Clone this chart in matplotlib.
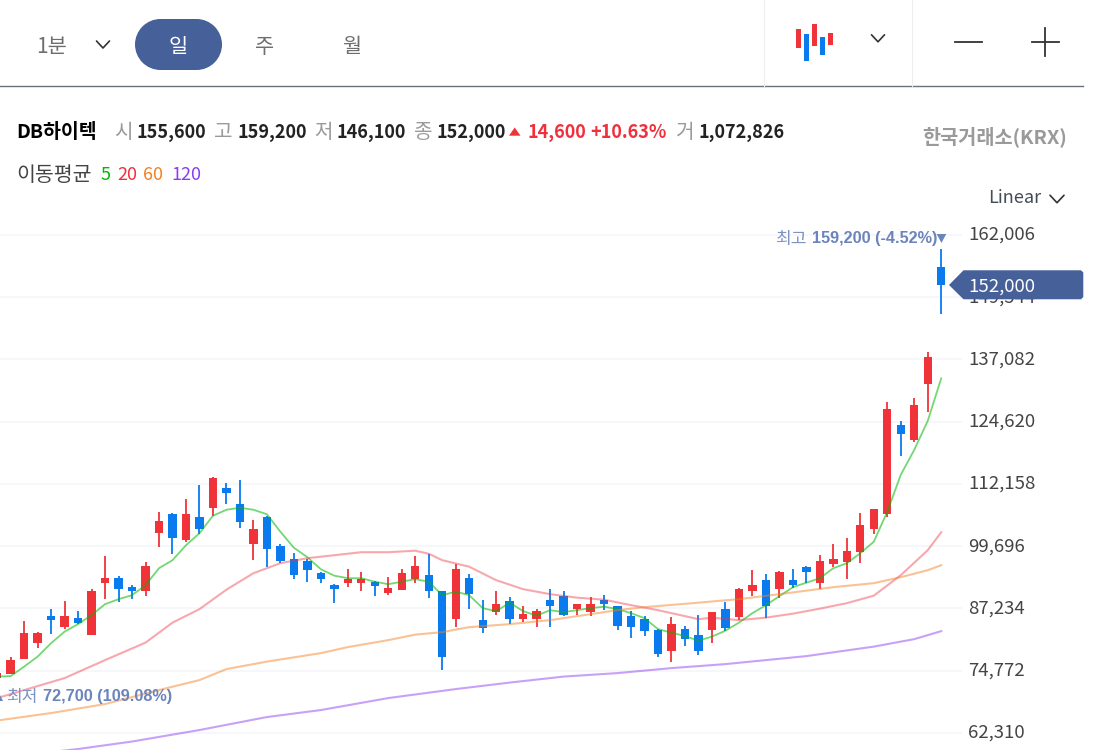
import matplotlib
matplotlib.use("Agg")
import matplotlib.pyplot as plt
from matplotlib.patches import Polygon, Rectangle
import numpy as np

plt.rcParams['font.family'] = ['Noto Sans CJK KR', 'DejaVu Sans']

# daily candles, oldest first
opens = [73300, 74200, 77100, 80400, 85800, 83600, 85300, 81900, 92300, 93300, 91600, 90700,
         102300, 106200, 100900, 105500, 107400, 111400, 108100, 100100, 105500, 99700, 97100,
         96800, 94300, 91900, 92300, 92300, 92600, 90400, 91000, 93100, 93900, 90700, 85200,
         93300, 84900, 86500, 88800, 85200, 85200, 88900, 89700, 87200, 86500, 89000, 87700,
         85800, 85200, 83000, 78700, 83200, 82000, 82900, 87200, 85500, 90700, 93000, 91100,
         93000, 95500, 92400, 96100, 96500, 98500, 103200, 106100, 123900, 120900, 132200, 155600]
highs = [74500, 77500, 84700, 82500, 87200, 88700, 86700, 91100, 97700, 93700, 92000, 96500,
         106600, 106300, 109200, 112000, 113600, 112400, 113000, 105000, 105700, 100100, 98300,
         97100, 94500, 92100, 95100, 94500, 92700, 93500, 95100, 97700, 98100, 90800, 96200,
         94100, 88900, 90800, 89500, 87700, 87200, 91100, 90700, 88200, 89500, 90000, 87800,
         86800, 85700, 83100, 85500, 83800, 85900, 86600, 88500, 91300, 94900, 94200, 94700,
         95100, 95700, 97900, 100100, 101300, 106400, 107200, 128500, 124800, 129300, 138600, 159200]
lows = [72700, 74100, 77100, 79400, 82100, 83100, 84100, 81900, 89100, 88500, 89100, 89700,
        99500, 98100, 100500, 102100, 105700, 108200, 103400, 96900, 95600, 96300, 93100,
        92500, 92400, 88300, 91500, 90800, 89700, 90000, 90900, 92400, 89300, 74900, 83500,
        87200, 82300, 86000, 84100, 84500, 83500, 83500, 85700, 85900, 85700, 86900, 82900,
        81300, 81800, 77500, 76500, 79700, 78000, 80300, 82700, 85000, 89800, 85400, 89300,
        91300, 92300, 91100, 95500, 93100, 96300, 102100, 105600, 117800, 120600, 126600, 146100]
closes = [74300, 76900, 82400, 82400, 84900, 85800, 84300, 90700, 93300, 91100, 90700, 95800,
          104800, 101300, 106200, 103200, 113400, 110400, 104500, 103200, 99100, 96700, 93900,
          94900, 93200, 91100, 93200, 93200, 91700, 91300, 94300, 95800, 90700, 77500, 95200,
          90100, 83400, 88100, 85200, 86200, 86800, 87700, 85900, 88100, 88100, 88100, 83700,
          83600, 82700, 78100, 84200, 81100, 78700, 86500, 83300, 91100, 92000, 87800, 94600,
          92000, 94600, 96800, 97100, 98700, 103900, 107100, 127100, 122200, 128000, 137600, 152000]

# moving averages
ma5 = [73600, 73700, 75600, 77600, 80300, 82600, 84100, 85900, 88100, 89100, 89900, 91900,
       95300, 96900, 99900, 102300, 105800, 107000, 107400, 107000, 106100, 102600, 99400,
       97500, 95100, 93800, 93300, 93300, 92600, 92100, 92600, 93100, 92600, 89900, 90600,
       89900, 87300, 86700, 88400, 86700, 85800, 86900, 86500, 86900, 87300, 87600, 87100,
       86300, 85300, 83100, 82400, 81700, 80800, 81600, 82800, 84400, 86300, 87900, 89700,
       91500, 92400, 93300, 95300, 96300, 98300, 100600, 106600, 114000, 119000, 124800, 133300]
ma20_idx = [0, 3, 5, 8, 11, 13, 15, 17, 19, 21, 23, 25, 27, 29, 31, 32, 33, 35, 37, 39, 41, 43,
            45, 47, 49, 52, 53, 55, 57, 59, 61, 63, 65, 67, 69, 70]
ma20 = [69300, 71700, 73300, 76900, 80400, 84400, 87100, 91000, 94300, 96300, 97300, 97900,
        98500, 98500, 98800, 98200, 96900, 95600, 92900, 91100, 90100, 89400, 89000, 87900,
        86900, 85100, 85400, 84900, 85400, 86200, 87200, 88300, 89800, 93900, 98900, 102500]
ma60_idx = [0, 4, 8, 12, 15, 17, 20, 24, 26, 29, 31, 33, 35, 38, 41, 43, 46, 48, 52, 55, 58, 62,
            65, 67, 69, 70]
ma60 = [64800, 66300, 68100, 70900, 72900, 75100, 76600, 78300, 79500, 80900, 82000, 82500,
        83500, 84100, 84900, 85700, 86900, 87500, 88400, 89100, 90100, 91500, 92300, 93500,
        94900, 95900]
ma120_idx = [0, 6, 10, 15, 20, 24, 29, 34, 38, 42, 46, 50, 54, 60, 65, 68, 70]
ma120 = [57300, 59100, 60600, 62900, 65500, 66900, 69300, 71100, 72400, 73600, 74300, 75300,
         76100, 77700, 79600, 81100, 82700]

y_ticks = [62310, 74772, 87234, 99696, 112158, 124620, 137082, 149544, 162006]

RED = '#ef3339'
BLUE = '#0a7bef'
NAVY = '#46609a'
MAX_BLUE = '#6b84bb'

W, H = 1098, 750
fig = plt.figure(figsize=(W / 100, H / 100), dpi=100)
fig.patch.set_facecolor('white')

# price chart, right edge stops where the axis labels start
ax = fig.add_axes([0, 0, 962 / W, (H - 215) / H])
ax.set_xlim(0.21, 71.54)
ax.set_ylim(58903, 166010)
for s in ax.spines.values():
    s.set_visible(False)
ax.set_xticks([])
ax.yaxis.tick_right()
ax.set_yticks(y_ticks)
ax.set_yticklabels(['{:,}'.format(v) for v in y_ticks], fontsize=13.4, color='#444444', va='center')
ax.tick_params(axis='y', length=0, pad=4.5)
ax.grid(axis='y', color='#f4f6f9', linewidth=1.2)
ax.set_axisbelow(True)

x = np.arange(len(closes))
o = np.array(opens)
c = np.array(closes)
colors = [RED if c[i] >= o[i] else BLUE for i in x]
ax.vlines(x, lows, highs, colors=colors, linewidth=1.3, zorder=2)
ax.bar(x, np.abs(c - o), bottom=np.minimum(o, c), width=0.62, color=colors, zorder=3)

ax.plot(x, ma5, color='#00b800', alpha=0.55, linewidth=1.3, zorder=4)
ax.plot(ma20_idx, ma20, color='#f0303c', alpha=0.42, linewidth=1.5, zorder=4)
ax.plot(ma60_idx, ma60, color='#f58020', alpha=0.48, linewidth=1.5, zorder=4)
ax.plot(ma120_idx, ma120, color='#8a3cf0', alpha=0.48, linewidth=1.5, zorder=4)


# pixel overlay for the toolbar, header and price flags
ui = fig.add_axes([0, 0, 1, 1], zorder=5)
ui.set_xlim(0, W)
ui.set_ylim(H, 0)
ui.axis('off')
ui.patch.set_alpha(0)


def label(px, py, s, size, color, weight='normal', ha='left'):
    # the CJK font sits high in its line box
    ui.text(px, py + 1.8, s, fontsize=size, color=color, fontweight=weight, ha=ha, va='center')


def flag_text(px, py, s, color):
    ui.text(px, py, s, fontsize=11.7, color=color, fontweight='bold', family='Liberation Sans', va='center')


def chart_y(price):
    return H - ax.transData.transform((0, price))[1]


def chart_x(i):
    return ax.transData.transform((i, 0))[0]


def chevron(cx, cy, w, h):
    ui.plot([cx - w / 2, cx, cx + w / 2], [cy - h / 2, cy + h / 2, cy - h / 2], color='#333333',
            linewidth=1.2, solid_capstyle='round')


# toolbar
ui.plot([0, 1083], [86.3, 86.3], color='#6b7178', linewidth=1)
ui.plot([763.5, 763.5], [0, 86], color='#eeeeee', linewidth=0.8)
ui.plot([911.5, 911.5], [0, 86], color='#eeeeee', linewidth=0.8)
label(36, 45, '1분', 15, '#6e6e6e')
chevron(103, 44.5, 13, 7)
ui.add_patch(Rectangle((160, 19), 37, 51, facecolor=NAVY, edgecolor='none'))
ui.add_patch(plt.Circle((160.5, 44.5), 25.5, facecolor=NAVY, edgecolor='none'))
ui.add_patch(plt.Circle((196.5, 44.5), 25.5, facecolor=NAVY, edgecolor='none'))
label(178, 45, '일', 15, 'white', ha='center')
label(264.5, 45, '주', 15, '#6e6e6e', ha='center')
label(351.5, 45, '월', 15, '#6e6e6e', ha='center')

icon_bars = [(796, 28.7, 48, RED), (804, 33.7, 61, BLUE), (812, 24, 46.3, RED),
             (820, 37, 54.7, BLUE), (828, 33.3, 45, RED)]
for bx, top, bottom, col in icon_bars:
    ui.add_patch(Rectangle((bx, top), 5, bottom - top, facecolor=col, edgecolor='none'))
chevron(878, 38.3, 13, 7)
ui.plot([955, 982], [41.7, 41.7], color='#333333', linewidth=1.3)
ui.plot([1032, 1059], [41.7, 41.7], color='#333333', linewidth=1.3)
ui.plot([1045, 1045], [28, 56], color='#333333', linewidth=1.3)

# quote line
GRAY = '#9a9a9a'
DARK = '#222222'
label(16.5, 130.5, 'DB하이텍', 14, 'black', 'bold')
label(114.5, 130.5, '시', 14.5, GRAY)
label(136.5, 131, '155,600', 13, DARK, 'bold')
label(214, 130.5, '고', 14.5, GRAY)
label(237.5, 131, '159,200', 13, DARK, 'bold')
label(314, 130.5, '저', 14.5, GRAY)
label(337, 131, '146,100', 13, DARK, 'bold')
label(414, 130.5, '종', 14.5, GRAY)
label(437, 131, '152,000', 13, DARK, 'bold')
ui.add_patch(Polygon([(509, 135.7), (520.5, 135.7), (514.7, 127.5)], facecolor=RED, edgecolor='none'))
label(527.5, 131, '14,600', 13, '#f0303c', 'bold')
label(590, 131, '+10.63%', 13, '#f0303c', 'bold')
label(675.5, 130.5, '거', 14.5, GRAY)
label(698, 131, '1,072,826', 13, DARK, 'bold')
label(1067, 134.5, '한국거래소(KRX)', 14.2, '#9a9a9a', 'bold', ha='right')

# moving average legend
label(16.5, 173, '이동평균', 14.8, '#444444')
label(100.5, 173, '5', 13, '#00b800')
label(117, 173, '20', 13, '#f0303c')
label(143.5, 173, '60', 13, '#f58020')
label(171.5, 173, '120', 13, '#8a3cf0')

label(988, 196.5, 'Linear', 13, '#444c58')
chevron(1057, 199, 14, 7.5)

# high / low flags
label(775.5, 237, '최고', 12.3, '#7d93c2')
flag_text(811.5, 238.5, '159,200 (-4.52%)', MAX_BLUE)
hx = chart_x(70)
ui.add_patch(Polygon([(hx - 4.5, 234), (hx + 5, 234), (hx + 0.2, 243)], facecolor=MAX_BLUE, edgecolor='none'))
ui.add_patch(Polygon([(-6, 701), (3, 701), (-1.5, 692)], facecolor=MAX_BLUE, edgecolor='none'))
label(6.5, 695.5, '최저', 12.3, '#7d93c2')
flag_text(43, 697, '72,700 (109.08%)', MAX_BLUE)

# last price flag, sits on top of the 149,544 tick label
ly = chart_y(closes[-1])
ui.add_patch(Polygon([(949, ly), (963.5, ly - 14.7), (1081, ly - 14.7), (1083.3, ly - 12.5),
                      (1083.3, ly + 12), (1081, ly + 14.3), (963.5, ly + 14.3)],
                     facecolor=NAVY, edgecolor='none'))
label(968, ly - 0.5, '152,000', 13.4, 'white')

fig.savefig('out.png', dpi=100, facecolor='white')
